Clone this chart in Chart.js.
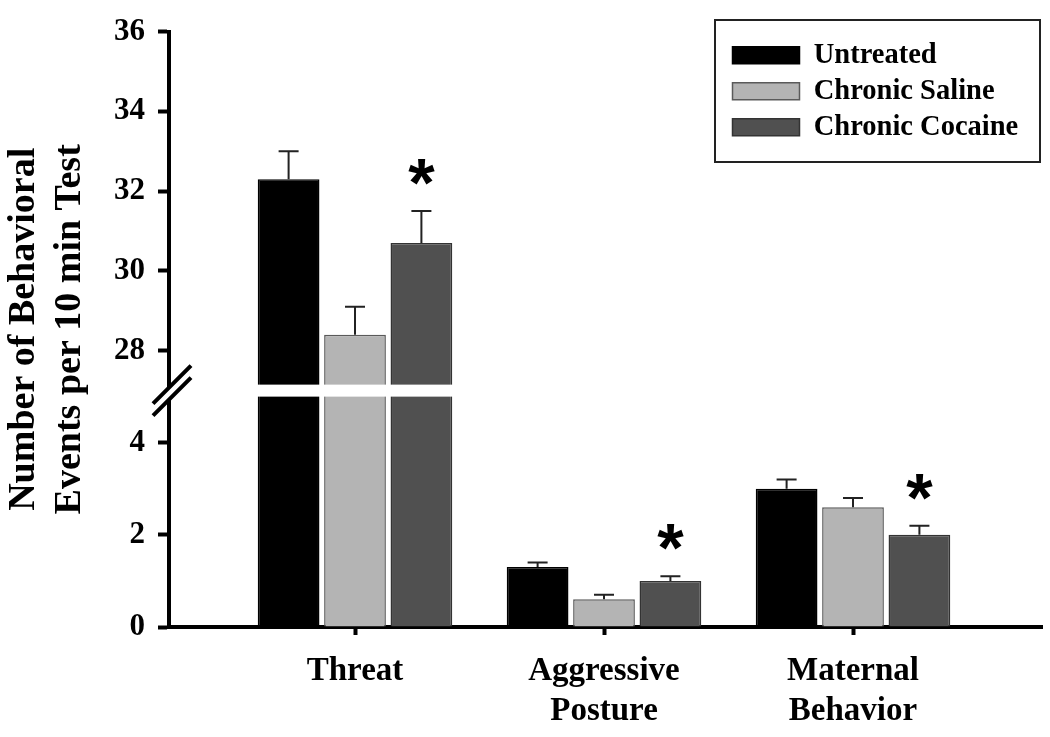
<!DOCTYPE html>
<html><head><meta charset="utf-8">
<script src="https://cdn.jsdelivr.net/npm/chart.js@4.4.1/dist/chart.umd.min.js"></script>
<style>html,body{margin:0;padding:0;background:#fff}</style>
</head><body>
<canvas id="c" width="1050" height="737"></canvas>
<script>
// ---------- data ----------
const categories = [['Threat'], ['Aggressive', 'Posture'], ['Maternal', 'Behavior']];
const seriesNames = ['Untreated', 'Chronic Saline', 'Chronic Cocaine'];
const untreated = [32.3, 1.3, 3.0];
const untreatedErr = [0.7, 0.1, 0.2];
const saline = [28.4, 0.6, 2.6];
const salineErr = [0.7, 0.1, 0.2];
const cocaine = [30.7, 1.0, 2.0];
const cocaineErr = [0.8, 0.1, 0.2];
const cocaineSignificant = [true, true, true];
const yTicks = [0, 2, 4, 28, 30, 32, 34, 36];
const yTitle = ['Number of Behavioral', 'Events per 10 min Test'];
// axis break: lower segment 0..BREAK_LOW, upper BREAK_HIGH..max
const BREAK_LOW = 5.13, BREAK_HIGH = 27.0, BREAK_FRAC = 0.397;

// ---------- broken linear scale ----------
class BrokenLinearScale extends Chart.LinearScale {
  _dec(v) {
    const min = this.min, max = this.max;
    if (v <= BREAK_LOW) return (v - min) / (BREAK_LOW - min) * BREAK_FRAC;
    if (v >= BREAK_HIGH) return BREAK_FRAC + (v - BREAK_HIGH) / (max - BREAK_HIGH) * (1 - BREAK_FRAC);
    return BREAK_FRAC;
  }
  getPixelForValue(value) {
    if (value === null || value === undefined || isNaN(value)) return NaN;
    return this.getPixelForDecimal(this._dec(value));
  }
  getValueForPixel(pixel) {
    const d = this.getDecimalForPixel(pixel);
    if (d <= BREAK_FRAC) return this.min + d / BREAK_FRAC * (BREAK_LOW - this.min);
    return BREAK_HIGH + (d - BREAK_FRAC) / (1 - BREAK_FRAC) * (this.max - BREAK_HIGH);
  }
}
BrokenLinearScale.id = 'brokenLinear';
BrokenLinearScale.defaults = Chart.LinearScale.defaults;
Chart.register(BrokenLinearScale);

const SERIF = "'Liberation Serif', 'Times New Roman', serif";
Chart.defaults.font.family = SERIF;
Chart.defaults.font.weight = 'bold';
Chart.defaults.color = '#000';

const toPoints = arr => arr.map((v, i) => ({x: i + 1, y: v}));

// ---------- plugins ----------
const legendPlacer = {
  id: 'legendPlacer',
  afterLayout(chart) {
    const lg = chart.legend;
    if (!lg) return;
    lg.left = 725; lg.top = 33.5; lg.right = 1040; lg.bottom = 160;
    lg.width = lg.right - lg.left; lg.height = lg.bottom - lg.top;
  },
  afterDraw(chart) {
    const ctx = chart.ctx;
    ctx.save();
    ctx.strokeStyle = '#222';
    ctx.lineWidth = 2;
    ctx.strokeRect(715, 20, 325, 142);
    ctx.restore();
  }
};

const breakPlugin = {
  id: 'axisBreak',
  afterDatasetsDraw(chart) {
    const ctx = chart.ctx, y = chart.scales.y, area = chart.chartArea;
    const by = y.getPixelForValue(BREAK_LOW);
    ctx.save();
    ctx.fillStyle = '#fff';
    ctx.fillRect(area.left + 3, by - 6, area.right - area.left - 3, 12);
    const cx = area.left + 3;
    const u = by - 6, l = by + 6, h = 19;
    ctx.beginPath();
    ctx.moveTo(cx - h, u + h); ctx.lineTo(cx + h, u - h);
    ctx.lineTo(cx + h, l - h); ctx.lineTo(cx - h, l + h); ctx.closePath();
    ctx.fill();
    ctx.strokeStyle = '#000';
    ctx.lineWidth = 4;
    ctx.beginPath();
    ctx.moveTo(cx - h, u + h); ctx.lineTo(cx + h, u - h);
    ctx.moveTo(cx - h, l + h); ctx.lineTo(cx + h, l - h);
    ctx.stroke();
    ctx.restore();
  }
};

const errorPlugin = {
  id: 'errorBars',
  afterDatasetsDraw(chart) {
    const ctx = chart.ctx, ys = chart.scales.y;
    ctx.save();
    chart.data.datasets.forEach((ds, di) => {
      const meta = chart.getDatasetMeta(di);
      meta.data.forEach((bar, i) => {
        const v = ds.data[i].y, e = ds.errorBars[i];
        const top = ys.getPixelForValue(v + e);
        ctx.strokeStyle = '#222';
        ctx.lineWidth = 2;
        ctx.beginPath();
        ctx.moveTo(bar.x, bar.y); ctx.lineTo(bar.x, top);
        ctx.moveTo(bar.x - 10, top); ctx.lineTo(bar.x + 10, top);
        ctx.stroke();
        if (ds.significant && ds.significant[i]) {
          ctx.fillStyle = '#000';
          ctx.font = "bold 68px 'Liberation Sans', Arial, sans-serif";
          ctx.textAlign = 'center';
          ctx.textBaseline = 'alphabetic';
          const m = ctx.measureText('*');
          const cy = top - 39;
          const base = cy + (m.actualBoundingBoxAscent - m.actualBoundingBoxDescent) / 2;
          ctx.fillText('*', bar.x, base);
        }
      });
    });
    ctx.restore();
  }
};

new Chart(document.getElementById('c'), {
  type: 'bar',
  data: {
    datasets: [
      {label: seriesNames[0], data: toPoints(untreated), errorBars: untreatedErr,
       backgroundColor: '#000000', borderColor: '#000000', borderWidth: 1.5},
      {label: seriesNames[1], data: toPoints(saline), errorBars: salineErr,
       backgroundColor: '#b4b4b4', borderColor: '#5a5a5a', borderWidth: 1.5},
      {label: seriesNames[2], data: toPoints(cocaine), errorBars: cocaineErr, significant: cocaineSignificant,
       backgroundColor: '#505050', borderColor: '#333333', borderWidth: 1.5}
    ]
  },
  options: {
    responsive: false,
    animation: false,
    barPercentage: 0.93,
    categoryPercentage: 0.80,
    layout: {padding: {left: 0, right: 8, top: 22, bottom: 0}},
    plugins: {
      tooltip: {enabled: false},
      legend: {
        position: 'chartArea',
        align: 'start',
        labels: {
          boxWidth: 67, boxHeight: 17, padding: 7.5, color: '#000',
          font: {family: SERIF, size: 28.5, weight: 'bold'}
        }
      }
    },
    scales: {
      x: {
        type: 'linear', min: 0.253, max: 3.759, offset: false,
        afterBuildTicks: s => { s.ticks = categories.map((_, i) => ({value: i + 1})); },
        afterFit: s => { s.height = 110; },
        ticks: {
          callback: v => categories[Math.round(v) - 1] || '',
          font: {family: SERIF, size: 33, weight: 'bold', lineHeight: 1.21},
          color: '#000', padding: 17, maxRotation: 0, autoSkip: false
        },
        grid: {display: true, offset: false, drawOnChartArea: false, drawTicks: true, tickLength: 8, tickWidth: 4, tickColor: '#000'},
        border: {display: true, color: '#000', width: 4}
      },
      y: {
        type: 'brokenLinear', min: 0, max: 36,
        afterBuildTicks: s => { s.ticks = yTicks.map(v => ({value: v})); },
        afterFit: s => { s.width = 169; },
        ticks: {
          callback: v => String(v),
          font: {family: SERIF, size: 31, weight: 'bold'},
          color: '#000', padding: 13
        },
        grid: {display: true, drawOnChartArea: false, drawTicks: true, tickLength: 11, tickWidth: 4, tickColor: '#000'},
        border: {display: true, color: '#000', width: 4},
        title: {
          display: true, text: yTitle, color: '#000',
          font: {family: SERIF, size: 38, weight: 'bold', lineHeight: 1.19},
          padding: {top: 2, bottom: 0}
        }
      }
    }
  },
  plugins: [legendPlacer, breakPlugin, errorPlugin]
});
</script>
</body></html>
